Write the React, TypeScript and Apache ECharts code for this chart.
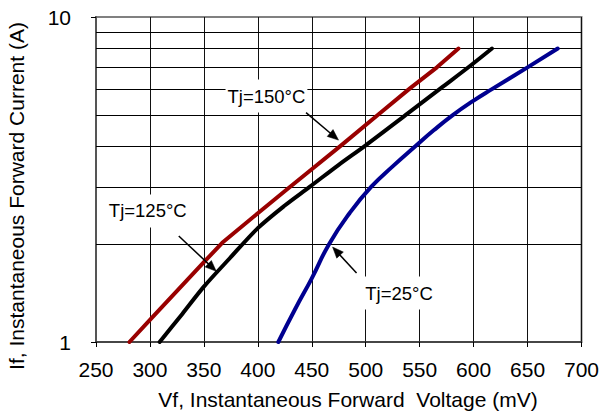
import React, { useEffect, useRef } from "react";
import * as echarts from "echarts";

// Vf (mV) and If (A) readings for each junction temperature
const tj150V = [281, 300, 350, 367, 400, 426, 450, 477, 512, 541, 566, 586];
const tj150I = [1, 1.17, 1.76, 2.02, 2.49, 2.93, 3.4, 4.02, 5.02, 6.03, 7.0, 8];
const tj125V = [309, 330, 350, 374, 400, 425, 448, 475, 500, 539, 570, 597, 617];
const tj125I = [1, 1.22, 1.48, 1.81, 2.24, 2.63, 3, 3.51, 4.03, 5.05, 6.05, 7.08, 8];
const tj25V = [419, 435, 450, 466, 485, 505, 525, 546, 563, 581, 600, 617, 650, 678];
const tj25I = [1, 1.27, 1.57, 2, 2.49, 3, 3.47, 4, 4.48, 5, 5.53, 6, 7, 8];

const minorGridI = [2, 3, 4, 5, 6, 7, 8, 9];

const xTitle = "Vf, Instantaneous Forward  Voltage (mV)";
const yTitle = "If, Instantaneous Forward Current (A)";

// annotation: label centre, arrow tail, arrow tip (data coordinates)
const annotations = [
  { text: "Tj=150°C", center: [408, 5.71], tail: [444.7, 5.08], tip: [474.8, 4.18] },
  { text: "Tj=125°C", center: [298, 2.53], tail: [326.7, 2.12], tip: [361.5, 1.65] },
  { text: "Tj=25°C", center: [530.9, 1.415], tail: [491.5, 1.63], tip: [469.3, 1.96] },
];

const FONT = '"Liberation Sans", Arial, sans-serif';

const zip = (xs: number[], ys: number[]) => xs.map((x, i) => [x, ys[i]]);

export default function App() {
  const ref = useRef<HTMLDivElement>(null);
  useEffect(() => {
    if (!ref.current) return;
    const chart = echarts.init(ref.current, null, { renderer: "svg" });
    const lineSeries = (name: string, data: number[][], color: string, smooth: any, extra: any = {}) => ({
      name,
      type: "line",
      data,
      showSymbol: false,
      symbol: "none",
      smooth,
      lineStyle: { color, width: 4, cap: "round", join: "round" },
      z: 5,
      ...extra,
    });
    chart.setOption({
      animation: false,
      backgroundColor: "#fff",
      grid: {
        left: 96,
        right: 19,
        top: 17,
        bottom: 74,
        show: true,
        borderColor: "#808080",
        borderWidth: 2,
        backgroundColor: "transparent",
      },
      xAxis: {
        type: "value",
        min: 250,
        max: 700,
        interval: 50,
        axisLine: { show: true, lineStyle: { color: "#333", width: 1.5 } },
        axisTick: { show: true, length: 5, lineStyle: { color: "#000", width: 1 } },
        axisLabel: { color: "#000", fontFamily: FONT, fontSize: 21, margin: 17 },
        splitLine: { show: true, lineStyle: { color: "#111", width: 1 } },
      },
      yAxis: {
        type: "log",
        logBase: 10,
        min: 1,
        max: 10,
        axisLine: { show: true, lineStyle: { color: "#555", width: 2 } },
        axisTick: { show: true, length: 5, lineStyle: { color: "#000", width: 1 } },
        axisLabel: { color: "#000", fontFamily: FONT, fontSize: 21, margin: 25 },
        splitLine: { show: false },
      },
      series: [
        lineSeries("Tj=150°C", zip(tj150V, tj150I), "#990000", false, {
          markLine: {
            silent: true,
            symbol: ["none", "none"],
            label: { show: false },
            lineStyle: { color: "#000", width: 1, type: "solid" },
            z: 1,
            data: minorGridI.map((v) => ({ yAxis: v })),
          },
        }),
        lineSeries("Tj=125°C", zip(tj125V, tj125I), "#000000", 0.3),
        lineSeries("Tj=25°C", zip(tj25V, tj25I), "#000090", 0.5),
      ],
    });

    const px = (p: number[]) => chart.convertToPixel({ gridIndex: 0 }, p) as number[];
    const graphics: any[] = [];
    annotations.forEach((a) => {
      const c = px(a.center);
      const t = px(a.tail);
      const h = px(a.tip);
      graphics.push({
        type: "text",
        x: c[0],
        y: c[1],
        z: 100,
        style: {
          text: a.text,
          font: `18.5px ${FONT}`,
          fill: "#000",
          align: "center",
          verticalAlign: "middle",
          textAlign: "center",
          textVerticalAlign: "middle",
          backgroundColor: "#fff",
          padding: [7, 2, 7, 2],
        },
      });
      const dx = h[0] - t[0];
      const dy = h[1] - t[1];
      const len = Math.sqrt(dx * dx + dy * dy);
      const ux = dx / len;
      const uy = dy / len;
      const headLen = 11;
      const headW = 4.5;
      const bx = h[0] - ux * headLen;
      const by = h[1] - uy * headLen;
      graphics.push({
        type: "line",
        z: 100,
        shape: { x1: t[0], y1: t[1], x2: bx + ux * 2, y2: by + uy * 2 },
        style: { stroke: "#000", lineWidth: 1.5 },
      });
      graphics.push({
        type: "polygon",
        z: 100,
        shape: {
          points: [
            [h[0], h[1]],
            [bx - uy * headW, by + ux * headW],
            [bx + uy * headW, by - ux * headW],
          ],
        },
        style: { fill: "#000", stroke: "#000", lineWidth: 0.5 },
      });
    });
    graphics.push({
      type: "text",
      x: 348,
      y: 399,
      z: 100,
      style: {
        text: xTitle,
        font: `21px ${FONT}`,
        fill: "#000",
        align: "center",
        verticalAlign: "middle",
        textAlign: "center",
        textVerticalAlign: "middle",
      },
    });
    graphics.push({
      type: "text",
      x: 16.5,
      y: 196,
      rotation: Math.PI / 2,
      z: 100,
      style: {
        text: yTitle,
        font: `21px ${FONT}`,
        fill: "#000",
        align: "center",
        verticalAlign: "middle",
        textAlign: "center",
        textVerticalAlign: "middle",
      },
    });
    chart.setOption({ graphic: graphics });

    return () => chart.dispose();
  }, []);
  return (
    <div
      ref={ref}
      style={{ position: "absolute", left: 0, top: 0, width: 602, height: 416 }}
    />
  );
}
